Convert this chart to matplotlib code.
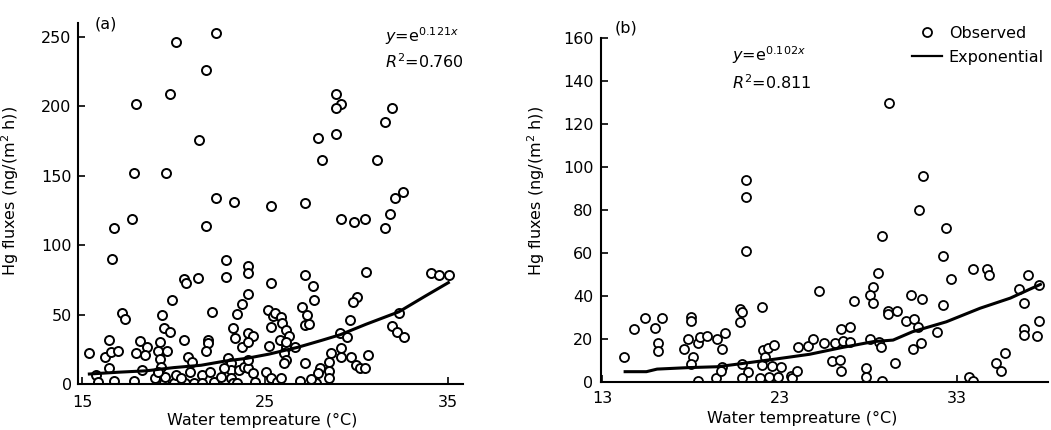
import matplotlib
matplotlib.use("Agg")
import matplotlib.pyplot as plt

# panel (a): observed points
obs_a_x = [22.32, 20.11, 21.79, 19.82, 17.93, 21.39, 17.82, 19.57, 22.34, 23.32,
           25.33, 17.71, 16.73, 21.79, 28.87, 29.16, 28.87, 31.92, 31.52, 27.89,
           28.87, 28.08, 31.13, 32.51, 32.11, 27.2, 29.16, 29.85, 30.44, 31.82,
           31.52,
           16.62, 17.16, 17.36, 15.39, 16.48, 16.28, 16.57, 16.97, 16.48, 15.79,
           15.89, 16.77, 17.85, 18.15, 18.54, 17.95, 18.44, 18.25, 19.39, 19.5,
           19.82, 19.23, 19.17, 19.62, 19.23, 19.33, 18.99, 19.5, 20.02, 20.61,
           19.9, 20.56, 20.7, 21.35, 20.56, 20.8, 21.0, 20.9, 21.1, 21.54,
           21.89, 21.86, 21.79, 22.08, 21.98, 22.23, 22.57, 22.87, 22.87, 24.05,
           24.05, 25.33, 24.05, 23.75, 23.46, 23.26, 23.36, 23.75, 24.05, 24.34,
           24.05, 25.13, 25.43, 25.33, 25.23, 22.97, 23.16, 23.16, 22.77, 23.56,
           23.85, 24.05, 24.34, 24.05, 23.16, 23.26, 23.46, 24.44, 25.03, 25.53,
           21.54, 20.11, 20.41, 19.53, 19.17,
           27.15, 27.59, 27.69, 30.51, 30.02, 29.82, 29.62, 27.0, 27.3, 27.15,
           27.39, 25.53, 25.88, 25.92, 26.11, 26.31, 25.82, 26.11, 26.61, 26.02,
           26.11, 26.02, 29.07, 29.46, 32.31, 31.92, 32.21, 32.56, 34.08, 34.48,
           35.06, 27.15, 29.16, 29.16, 29.66, 29.95, 30.15, 30.44, 30.64, 28.57,
           28.48, 27.98, 28.48, 27.89, 28.48, 27.79, 27.49, 26.9, 25.33, 25.62,
           25.87, 26.11]
obs_a_y = [253, 246, 226, 209, 202, 175.5, 152, 152, 134, 131,
           128, 119, 112, 114, 209, 202, 199, 199, 189, 177,
           180, 161, 161, 138, 134, 130, 119, 116.5, 119, 122.5,
           112,
           90, 51, 47, 22, 32, 19.7, 23.3, 23.8, 11.3, 6.5,
           1.7, 2.1, 2.1, 31, 27, 22, 20.6, 10, 49.6, 40,
           37.6, 30.4, 24, 24, 17.7, 12.5, 4.1, 1, 0.5, 0.5,
           60.4, 75.3, 72.4, 76.7, 32, 19.7, 16, 8.9, 0.5, 6.5,
           32, 29.3, 23.5, 52, 8.9, 1.7, 5.3, 89, 76.8, 85,
           79.6, 72.4, 65, 57.5, 50.4, 40.5, 33, 26.4, 36.5, 34.5,
           30.4, 53, 49, 41, 27.3, 18.5, 14.9, 10, 11.3, 10,
           12.5, 11.3, 7.7, 17.3, 4.1, 0.5, 0.5, 1.7, 8.9, 0.5,
           0.5, 6.5, 4.1, 4.8, 8.9,
           78.4, 70.7, 60.4, 80.8, 62.8, 59.2, 46, 55.2, 49.6, 42.4,
           43.2, 50.8, 48, 43.7, 38.8, 34.5, 31.7, 26.8, 26.4, 22,
           17.3, 14.9, 36.5, 34, 50.8, 41.7, 37.6, 34, 79.6, 78.4,
           78.4, 15.3, 25.6, 19.7, 19.7, 13.7, 11.3, 11.3, 20.9, 22,
           16, 11.3, 9.6, 7.7, 4.1, 0.5, 3.4, 2.4, 4.1, 1.7,
           4.1, 30]
fit_a_x = [15.4, 17.0, 18.5, 20.0, 21.5, 22.8, 24.0, 25.2, 26.8, 28.1, 29.1, 30.5, 32.3, 33.7, 35.0]
fit_a_y = [7.2, 8.5, 9.5, 11.8, 13.5, 16.5, 18.5, 21.5, 26.5, 31.5, 35.5, 43, 52, 63, 73]

# panel (b)
obs_b_x = [21.13, 21.13, 21.13, 25.2, 29.15, 31.1, 30.84, 32.4, 28.8,
           14.25, 14.8, 15.4, 15.97, 16.4, 16.15, 16.15, 18.0, 18.0, 17.85,
           17.6, 18.4, 18.1, 18.0, 18.5, 18.9, 18.4, 19.45, 19.9, 19.76,
           19.4, 19.76, 19.7, 20.8, 20.9, 20.8, 20.9, 21.2, 20.9, 22.0,
           22.07, 22.35, 22.7, 22.0, 22.2, 22.6, 22.4, 21.9, 23.07, 22.9,
           23.66, 23.7, 24.0, 24.04, 24.6, 24.9, 25.5,
           32.2, 33.9, 34.7, 34.8, 37.0, 37.6, 36.5, 36.8, 37.6, 36.8,
           36.8, 37.5, 32.65, 32.2, 31.85, 28.55, 28.27, 28.1, 28.27, 27.2,
           30.4, 31.04, 29.1, 29.6, 29.1, 30.1, 30.6, 30.8, 26.45, 27.0,
           26.1, 26.6, 27.0, 28.1, 28.6, 28.7, 30.5, 31.0, 25.96, 26.4,
           26.45, 27.9, 27.9, 28.8, 29.5, 33.65, 33.9, 35.2, 35.7, 35.5]
obs_b_y = [94, 86.2, 61, 42.3, 130, 96, 80, 71.8, 67.9,
           11.8, 24.5, 29.9, 25.3, 29.9, 18.3, 14.6, 30.1, 28.2, 19.8,
           15.2, 18, 11.8, 8.4, 20.8, 21.4, 0.5, 19.8, 22.6, 15.2,
           1.7, 7.1, 5.3, 33.8, 32.7, 28, 8.4, 4.8, 1.7, 34.7,
           14.9, 15.7, 17.2, 7.9, 11.5, 7.4, 2.5, 1.7, 7.1, 2.2,
           2.8, 1.7, 5.3, 16.1, 16.7, 19.8, 18,
           58.8, 52.4, 52.4, 49.6, 49.8, 45.1, 43.1, 36.6, 28.2, 24.5,
           21.9, 21.5, 47.8, 35.8, 23.4, 50.8, 44.3, 40.5, 36.6, 37.7,
           40.5, 38.5, 33, 33, 31.5, 28.4, 29.2, 25.7, 24.5, 25.4,
           18, 19.1, 18.8, 19.8, 18.8, 16.1, 15.2, 18, 9.9, 10.2,
           5.3, 6.4, 2.5, 0.5, 8.7, 2.5, 0.5, 9, 13.3, 5.3]
fit_b_x = [14.3, 15.5, 16.1, 17.9, 19.5, 21.0, 22.8, 24.7, 26.5, 28.3, 29.4, 30.5, 32.4, 34.3, 36.0, 37.7]
fit_b_y = [4.8, 4.8, 6.0, 6.7, 7.1, 8.7, 10.7, 12.9, 16.0, 18.8, 19.5, 23.4, 28.0, 34.3, 39.0, 45.4]

W, H = 1051, 430
plt.rcParams["font.family"] = "DejaVu Sans"
plt.rcParams["mathtext.fontset"] = "dejavusans"
FS = 11.5

fig = plt.figure(figsize=(W / 100, H / 100), dpi=100)
ax_a = fig.add_axes([78 / W, 1 - 384 / H, 385 / W, 361 / H])
ax_b = fig.add_axes([601 / W, 1 - 382 / H, 447 / W, 344 / H])


def style(ax, xpad, ypad):
    for s in ["top", "right"]:
        ax.spines[s].set_visible(False)
    for s in ["left", "bottom"]:
        ax.spines[s].set_linewidth(1.5)
    ax.tick_params(direction="in", length=5, width=1.2, labelsize=FS)
    ax.tick_params(axis="x", pad=xpad)
    ax.tick_params(axis="y", pad=ypad)


ax_a.plot(obs_a_x, obs_a_y, "o", ls="none", mfc="white", mec="black", ms=6.5, mew=1.4, zorder=2)
ax_a.plot(fit_a_x, fit_a_y, "-", color="black", lw=2.2, zorder=3)
ax_a.set_xlim(14.78, 35.8)
ax_a.set_ylim(0, 260)
ax_a.set_xticks([15, 25, 35])
ax_a.set_yticks([0, 50, 100, 150, 200, 250])
style(ax_a, 8, 4.5)
ax_a.set_xlabel("Water tempreature (°C)", fontsize=FS)
ax_a.xaxis.set_label_coords(0.478, -0.08)
ax_a.set_ylabel("Hg fluxes (ng/(m$^2$ h))", fontsize=FS)
ax_a.yaxis.set_label_coords(-0.147, 0.535)
ax_a.text(0.044, 0.997, "(a)", transform=ax_a.transAxes, fontsize=FS, va="center")
ax_a.text(0.797, 0.964, "$y$=e$^{0.121x}$", transform=ax_a.transAxes, fontsize=FS, va="center")
ax_a.text(0.797, 0.892, "$R^2$=0.760", transform=ax_a.transAxes, fontsize=FS, va="center")

obs_line, = ax_b.plot(obs_b_x, obs_b_y, "o", ls="none", mfc="white", mec="black", ms=6.5, mew=1.3,
                      zorder=2, label="Observed")
fit_line, = ax_b.plot(fit_b_x, fit_b_y, "-", color="black", lw=2.2, zorder=3, label="Exponential")
ax_b.set_xlim(12.94, 38.13)
ax_b.set_ylim(0, 160)
ax_b.set_xticks([13, 23, 33])
ax_b.set_yticks([0, 20, 40, 60, 80, 100, 120, 140, 160])
style(ax_b, 6.5, 5.5)
ax_b.set_xlabel("Water tempreature (°C)", fontsize=FS)
ax_b.xaxis.set_label_coords(0.45, -0.085)
ax_b.set_ylabel("Hg fluxes (ng/(m$^2$ h))", fontsize=FS)
ax_b.yaxis.set_label_coords(-0.121, 0.555)
ax_b.text(0.031, 1.029, "(b)", transform=ax_b.transAxes, fontsize=FS, va="center")
ax_b.text(0.293, 0.951, "$y$=e$^{0.102x}$", transform=ax_b.transAxes, fontsize=FS, va="center")
ax_b.text(0.293, 0.869, "$R^2$=0.811", transform=ax_b.transAxes, fontsize=FS, va="center")

leg = ax_b.legend(handles=[obs_line, fit_line], loc="upper left",
                  bbox_to_anchor=(912 / W, 1 - 26 / H), bbox_transform=fig.transFigure,
                  frameon=False, fontsize=FS, handlelength=1.9, handletextpad=0.4,
                  labelspacing=0.55, borderpad=0, borderaxespad=0)
leg.get_lines()[1].set_linewidth(1.6)

fig.savefig("out.png", dpi=100)
